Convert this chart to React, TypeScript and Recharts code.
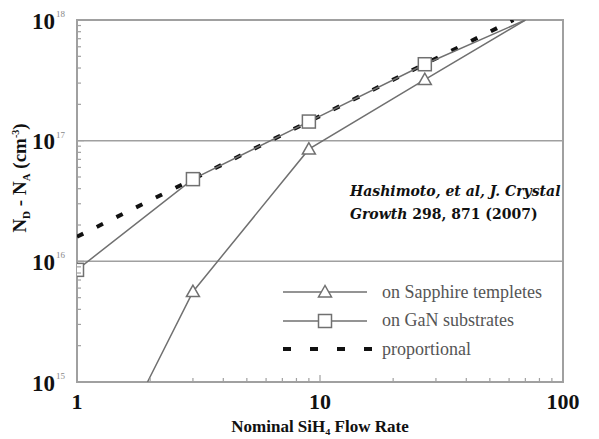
import React from 'react'
import {
  LineChart,
  Line,
  XAxis,
  YAxis,
  ReferenceLine,
  ReferenceArea,
} from 'recharts'

// nominal SiH4 flow rate (x) and N_D - N_A in cm^-3 (y)
const sapphireX = [1.95, 3, 9, 27, 70]
const sapphireY = [1e15, 5.6e15, 8.5e16, 3.2e17, 1e18]
const sapphireMarked = [false, true, true, true, false]

const ganX = [1, 3, 9, 27, 70]
const ganY = [8.5e15, 4.8e16, 1.44e17, 4.3e17, 1e18]
const ganMarked = [true, true, true, true, false]

const propX = [1, 62.5]
const propY = [1.6e16, 1e18]

const xTicks = [1, 2, 3, 4, 5, 6, 7, 8, 9, 10, 20, 30, 40, 50, 60, 70, 80, 90, 100]
const xLabels = [1, 10, 100]
const yTicks = [
  1e15, 2e15, 3e15, 4e15, 5e15, 6e15, 7e15, 8e15, 9e15,
  1e16, 2e16, 3e16, 4e16, 5e16, 6e16, 7e16, 8e16, 9e16,
  1e17, 2e17, 3e17, 4e17, 5e17, 6e17, 7e17, 8e17, 9e17,
  1e18,
]
const yLabels = [1e15, 1e16, 1e17, 1e18]
const gridValues = [1e16, 1e17]

const legendItems = ['on Sapphire templetes', 'on GaN substrates', 'proportional']

const toPoints = (xs: number[], ys: number[], marks?: boolean[]) =>
  xs.map((x, i) => ({ x, y: ys[i], marked: marks ? marks[i] : false }))

const sapphireData = toPoints(sapphireX, sapphireY, sapphireMarked)
const ganData = toPoints(ganX, ganY, ganMarked)
const propData = toPoints(propX, propY)

const LINE = '#707070'
const FRAME = '#a0a0a0'
const serif = 'Liberation Serif'
const slab = 'DejaVu Serif'

function Triangle({ cx, cy }: { cx: number; cy: number }) {
  const s = 6.5
  return (
    <polygon
      points={`${cx},${cy - s} ${cx - s},${cy + s * 0.75} ${cx + s},${cy + s * 0.75}`}
      fill='#fff'
      stroke={LINE}
      strokeWidth={1.5}
    />
  )
}

function Square({ cx, cy }: { cx: number; cy: number }) {
  const s = 6.5
  return (
    <rect x={cx - s} y={cy - s} width={s * 2} height={s * 2} fill='#fff' stroke={LINE} strokeWidth={1.5} />
  )
}

const triDot = (props: any) =>
  props.payload.marked ? <Triangle key={props.index} cx={props.cx} cy={props.cy} /> : <g key={props.index} />
const sqDot = (props: any) =>
  props.payload.marked ? <Square key={props.index} cx={props.cx} cy={props.cy} /> : <g key={props.index} />

function XTick(props: any) {
  const { x, y, payload } = props
  const major = xLabels.includes(payload.value)
  return (
    <g>
      <line x1={x} x2={x} y1={y} y2={y - (major ? 7 : 4)} stroke={FRAME} strokeWidth={1.2} />
      {major && (
        <text x={x} y={y + 19} textAnchor='middle' dominantBaseline='central' fontFamily={serif} fontWeight='bold' fontSize={22} fill='#111'>
          {payload.value}
        </text>
      )}
    </g>
  )
}

function YTick(props: any) {
  const { x, y, payload } = props
  const major = yLabels.includes(payload.value)
  const exp = Math.round(Math.log10(payload.value))
  return (
    <g>
      <line x1={x} x2={x + (major ? 7 : 4)} y1={y} y2={y} stroke={FRAME} strokeWidth={1.2} />
      {major && (
        <>
          <text x={x - 22} y={y + 1} textAnchor='end' dominantBaseline='central' fontFamily={serif} fontWeight='bold' fontSize={23} fill='#111'>
            10
          </text>
          <text x={x - 21} y={y - 3} textAnchor='start' fontFamily={serif} fontSize={9} fill='#888'>
            {exp}
          </text>
        </>
      )}
    </g>
  )
}

function YLabel() {
  return (
    <text
      transform='translate(26,178) rotate(-90)'
      textAnchor='middle'
      fontFamily={serif}
      fontWeight='bold'
      fontSize={19}
      fill='#111'
    >
      N<tspan fontSize={11} dy={4}>D</tspan>
      <tspan dy={-4}> - N</tspan>
      <tspan fontSize={11} dy={4}>A</tspan>
      <tspan dy={-4}> (cm</tspan>
      <tspan fontSize={10} dy={-7}>-3</tspan>
      <tspan dy={7}>)</tspan>
    </text>
  )
}

function LegendBox() {
  return (
    <div style={{ position: 'absolute', left: 278, top: 278, fontFamily: serif, fontSize: 18, color: '#555' }}>
      {legendItems.map((label, i) => (
        <div key={label} style={{ display: 'flex', alignItems: 'center', height: 28.5 }}>
          <svg width={104} height={20}>
            {i < 2 ? (
              <>
                <line x1={5} x2={89} y1={10} y2={10} stroke={LINE} strokeWidth={1.5} />
                {i === 0 ? <Triangle cx={47} cy={10} /> : <Square cx={47} cy={10} />}
              </>
            ) : (
              <line x1={5} x2={94} y1={10} y2={10} stroke='#111' strokeWidth={4} strokeDasharray='8 19' />
            )}
          </svg>
          <span>{label}</span>
        </div>
      ))}
    </div>
  )
}

export default function App() {
  return (
    <div style={{ position: 'fixed', left: 0, top: 0, width: 599, height: 439, background: '#fff' }}>
      <LineChart width={599} height={439} margin={{ top: 20, right: 36, bottom: 0, left: 0 }}>
        <XAxis
          dataKey='x'
          type='number'
          scale='log'
          domain={[1, 100]}
          allowDataOverflow
          ticks={xTicks}
          interval={0}
          height={57}
          axisLine={false}
          tickLine={false}
          tickSize={0}
          tickMargin={0}
          tick={(p: any) => <XTick {...p} />}
          label={{
            value: 'Nominal SiH₄ Flow Rate',
            position: 'insideBottom',
            offset: 7,
            style: { fontFamily: serif, fontWeight: 'bold', fontSize: 17, fill: '#111' },
          }}
        />
        <YAxis
          dataKey='y'
          type='number'
          scale='log'
          domain={[1e15, 1e18]}
          allowDataOverflow
          ticks={yTicks}
          interval={0}
          width={77}
          axisLine={false}
          tickLine={false}
          tickSize={0}
          tickMargin={0}
          tick={(p: any) => <YTick {...p} />}
          label={{ content: () => <YLabel /> }}
        />
        {gridValues.map((v) => (
          <ReferenceLine key={v} y={v} stroke={FRAME} strokeWidth={1.5} />
        ))}
        <ReferenceArea x1={1} x2={100} y1={1e15} y2={1e18} fill='none' stroke={FRAME} strokeWidth={2} ifOverflow='visible' />
        <Line
          data={propData}
          dataKey='y'
          type='linear'
          stroke='#111'
          strokeWidth={4}
          strokeDasharray='7 15'
          dot={false}
          isAnimationActive={false}
        />
        <Line
          data={sapphireData}
          dataKey='y'
          type='linear'
          stroke={LINE}
          strokeWidth={1.5}
          dot={triDot}
          activeDot={false}
          isAnimationActive={false}
        />
        <Line
          data={ganData}
          dataKey='y'
          type='linear'
          stroke={LINE}
          strokeWidth={1.5}
          dot={sqDot}
          activeDot={false}
          isAnimationActive={false}
        />
      </LineChart>
      <LegendBox />
      <div
        style={{
          position: 'absolute',
          left: 350,
          top: 180,
          fontFamily: slab,
          fontSize: 14,
          lineHeight: '23px',
          color: '#111',
          fontWeight: 'bold',
        }}
      >
        <i>Hashimoto, et al, J. Crystal</i>
        <br />
        <i>Growth</i> 298, 871 (2007)
      </div>
    </div>
  )
}
